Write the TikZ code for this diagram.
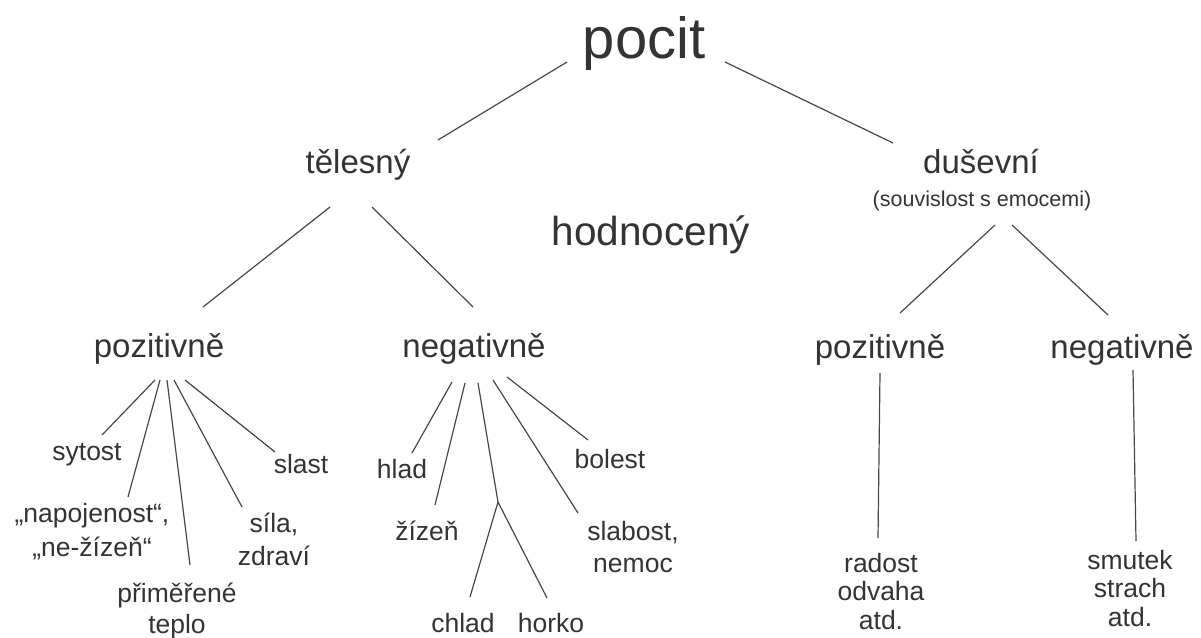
\documentclass[tikz,border=0pt]{standalone}
\usepackage{fontspec}
\setmainfont{Liberation Sans}
\usetikzlibrary{positioning}
\definecolor{ink}{HTML}{333333}
\tikzset{
	word/.style = {text=ink, inner sep=0pt, anchor=base},
	title/.style = {word, font=\fontsize{33}{36}\selectfont},
	leaf/.style = {word, font=\fontsize{26.5}{33}\selectfont, align=center},
	leaves/.style = {leaf, anchor=north},
	rleaves/.style = {leaves, font=\fontsize{26.5}{28.5}\selectfont},
	line/.style = {draw=ink!90, line width=1.2pt},
}

\begin{document}
\begin{tikzpicture}[x=1pt, y=-1pt]
			\useasboundingbox (0,0) rectangle (1201,637);
			% horni uroven
			\node [word, font=\fontsize{58}{60}\selectfont] (pocit) at (644, 58) {pocit};
			\node [title] (telesny) at (358, 173) {tělesný};
			\node [word, font=\fontsize{40.5}{44}\selectfont] (hodnoceny) at (651, 245) {hodnocený};
			\node [title] (dusevni) at (981, 173) {duševní};
			\node [word, font=\fontsize{21.5}{24}\selectfont] (emoce) at (982, 206) {(souvislost s emocemi)};
			% druha uroven
			\node [title] (tpoz) at (159, 357) {pozitivně};
			\node [title] (tneg) at (474, 357) {negativně};
			\node [title] (dpoz) at (880, 358) {pozitivně};
			\node [title] (dneg) at (1122, 358) {negativně};
			% telesny pozitivne
			\node [leaf] (sytost) at (87, 460) {sytost};
			\node [leaves, font=\fontsize{26.5}{34}\selectfont] (napoj) at (92, 503.5) {„napojenost“,\\„ne-žízeň“};
			\node [leaves, font=\fontsize{26.5}{31}\selectfont] (primerene) at (177, 582.5) {přiměřené\\teplo};
			\node [leaves] (sila) at (274, 512.5) {síla,\\zdraví};
			\node [leaf] (slast) at (301, 473) {slast};
			% telesny negativne
			\node [leaf] (hlad) at (402, 478) {hlad};
			\node [leaf] (zizen) at (427, 540) {žízeň};
			\node [leaf] (chlad) at (463, 632) {chlad};
			\node [leaf] (horko) at (551, 632) {horko};
			\node [leaves, font=\fontsize{26.5}{32}\selectfont] (slabost) at (633, 520.7) {slabost,\\nemoc};
			\node [leaf] (bolest) at (610, 468) {bolest};
			\coordinate (rozdvoj) at (498, 502);
			% dusevni
			\node [rleaves] (radost) at (881, 552.7) {radost\\odvaha\\atd.};
			\node [rleaves] (smutek) at (1130, 549.7) {smutek\\strach\\atd.};
			
			\path [line] ([shift={(-77,4)}]pocit.base) -- ([shift={(80,-33)}]telesny.base);
			\path [line] ([shift={(81,4)}]pocit.base) -- ([shift={(-88,-30)}]dusevni.base);
			\path [line] ([shift={(-28,34)}]telesny.base) -- ([shift={(44,-50)}]tpoz.base);
			\path [line] ([shift={(14,34)}]telesny.base) -- ([shift={(-1,-50)}]tneg.base);
			\path [line] ([shift={(13,19)}]emoce.base) -- ([shift={(20,-45)}]dpoz.base);
			\path [line] ([shift={(30,19)}]emoce.base) -- ([shift={(-14,-43)}]dneg.base);
			
			\path [line] ([shift={(-4,23)}]tpoz.base) -- ([shift={(15,-25)}]sytost.base);
			\path [line] ([shift={(1,23)}]tpoz.base) -- ([shift={(36,-6.5)}]napoj.north);
			\path [line] ([shift={(8,23)}]tpoz.base) -- ([shift={(13,-17.5)}]primerene.north);
			\path [line] ([shift={(15,23)}]tpoz.base) -- ([shift={(-32,-5.5)}]sila.north);
			\path [line] ([shift={(26,23)}]tpoz.base) -- ([shift={(-26,-21)}]slast.base);
			
			\path [line] ([shift={(-22,25)}]tneg.base) -- ([shift={(10,-25)}]hlad.base);
			\path [line] ([shift={(-9,26)}]tneg.base) -- ([shift={(8,-35)}]zizen.base);
			\path [line] ([shift={(4,26)}]tneg.base) -- (rozdvoj);
			\path [line] (rozdvoj) -- ([shift={(7,-35)}]chlad.base);
			\path [line] (rozdvoj) -- ([shift={(-4,-34)}]horko.base);
			\path [line] ([shift={(19,23)}]tneg.base) -- ([shift={(-55,-7.7)}]slabost.north);
			\path [line] ([shift={(33,20)}]tneg.base) -- ([shift={(-22,-28)}]bolest.base);
			
			\path [line] ([shift={(0,15)}]dpoz.base) -- ([shift={(-3,-14.7)}]radost.north);
			\path [line] ([shift={(11,12)}]dneg.base) -- ([shift={(6,-8.7)}]smutek.north);
		\end{tikzpicture}
\end{document}
